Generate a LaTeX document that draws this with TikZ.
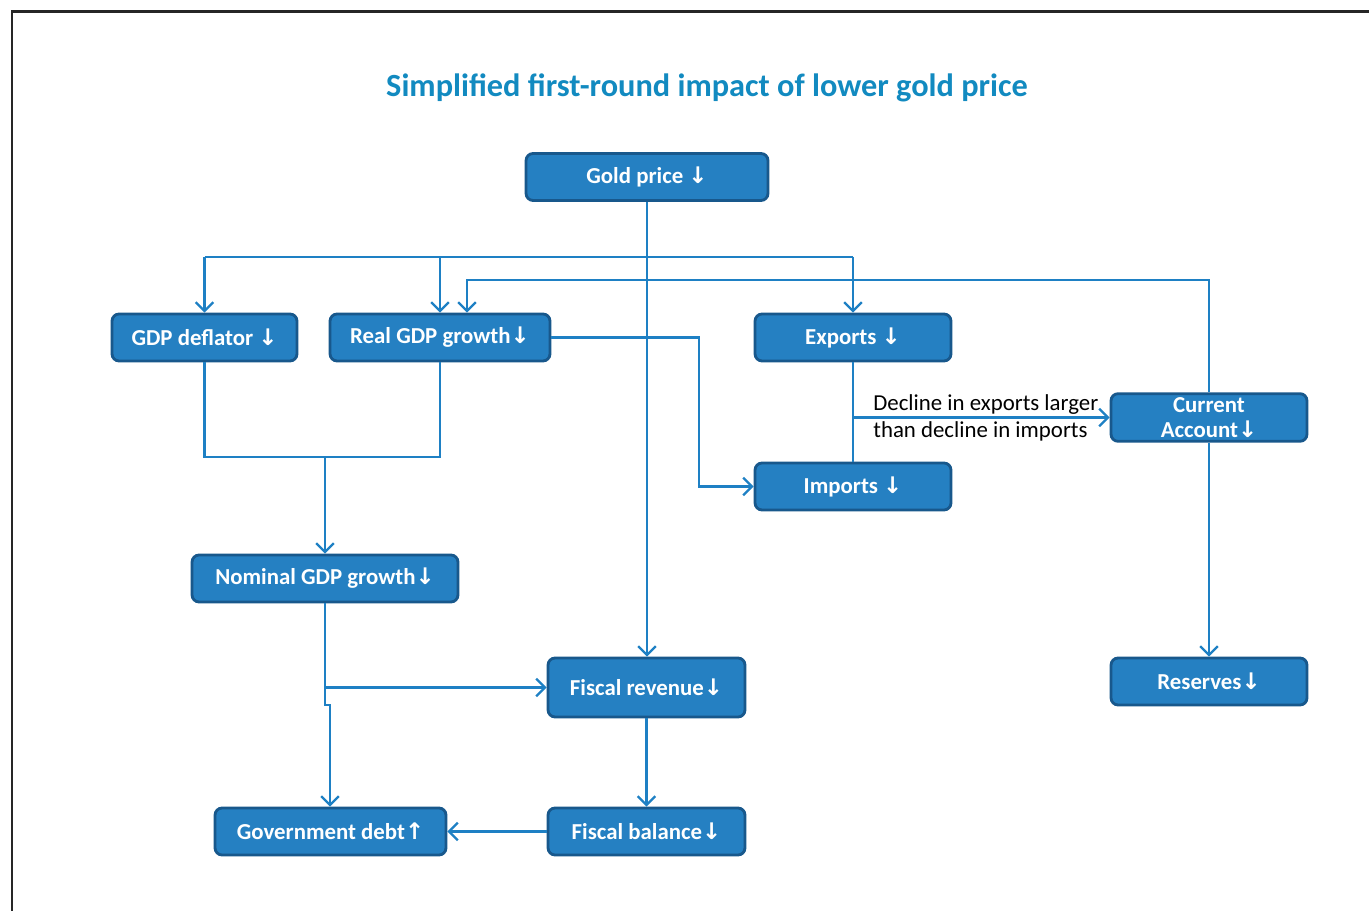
\documentclass[tikz,border=0pt]{standalone}
\usepackage{fontspec}
\setmainfont{Carlito}
\newfontfamily\arrowfont{DejaVu Sans}
\usetikzlibrary{arrows.meta}

\definecolor{boxfill}{RGB}{37,128,194}
\definecolor{boxline}{RGB}{24,88,140}
\definecolor{linkcol}{RGB}{30,128,196}
\definecolor{titlecol}{RGB}{18,138,192}

\newcommand{\dn}{{\arrowfont\bfseries ↓}}
\newcommand{\up}{{\arrowfont\bfseries ↑}}

\begin{document}
\begin{tikzpicture}[x=0.02cm, y=-0.02cm,
  box/.style={rectangle, rounded corners=4pt, draw=boxline, fill=boxfill, line width=1.6pt,
    text=white, font=\fontsize{13}{14}\selectfont\bfseries, minimum height=0.94cm, inner sep=2pt, align=center},
  link/.style={draw=linkcol, line width=1.4pt},
  arr/.style={link, -{Straight Barb[length=5pt, width=10pt, line width=1.3pt]}}]

\useasboundingbox (0,0) rectangle (1369,911);
\draw[line width=1.7pt, black!85] (12,911) -- (12,12) -- (1369,12);

\node[font=\fontsize{18.4}{21}\selectfont\bfseries, text=titlecol] (title) at (707,88) {Simplified first-round impact of lower gold price};

% boxes
\node[box, minimum width=4.84cm] (gold) at (647,177) {Gold price \dn};
\node[box, minimum width=3.70cm] (gdpdef) at (204.5,337.5) {GDP deflator \dn};
\node[box, minimum width=4.40cm] (realgdp) at (440,337.5) {Real GDP growth\dn};
\node[box, minimum width=3.92cm] (exports) at (853,337.5) {Exports \dn};
\node[box, minimum width=3.92cm] (imports) at (853,486.5) {Imports \dn};
\node[box, minimum width=3.92cm, font=\fontsize{13}{14.5}\selectfont\bfseries] (curacc) at (1209,417.5) {Current\\Account\dn};
\node[box, minimum width=5.32cm] (nomgdp) at (325,578.5) {Nominal GDP growth\dn};
\node[box, minimum width=3.94cm, minimum height=1.18cm] (fisrev) at (646.5,687.5) {Fiscal revenue\dn};
\node[box, minimum width=3.92cm] (reserves) at (1209,681.5) {Reserves\dn};
\node[box, minimum width=4.62cm] (govdebt) at (330.5,831.5) {Government debt\up};
\node[box, minimum width=3.94cm] (fisbal) at (646.5,831.5) {Fiscal balance\dn};

\coordinate (split) at (647,257);
\coordinate (back) at (467,280);
\coordinate (turn) at (699,337.5);
\coordinate (join) at (325,457);
\coordinate (jog) at (330,705);

% gold price
\draw[arr] (gold.south) -- (gold.south |- fisrev.north);
\draw[link] (split -| gdpdef) -- (split -| exports);
\foreach \n in {gdpdef, realgdp, exports} {
  \draw[arr] (split -| \n) -- (\n.north);
}

% current account feeds back
\draw[arr] (curacc.north) |- (back) -- (back |- realgdp.north);
\draw[arr] (realgdp.east) -- (turn) |- (imports.west);

% nominal GDP
\draw[link] (gdpdef.south) |- (join) -| (realgdp.south);
\draw[arr] (join) -- (nomgdp.north);
\draw[arr] (nomgdp.south) |- (fisrev.west);
\draw[arr] (nomgdp.south) |- (jog) -- (jog |- govdebt.north);

% trade
\draw[link] (exports.south) -- (imports.north);
\draw[arr] (exports.south |- curacc.west) -- (curacc.west);
\node[anchor=west, align=left, font=\fontsize{13}{15.5}\selectfont, inner sep=0pt] (note) at (873,418) {Decline in exports larger\\than decline in imports};
\draw[arr] (curacc.south) -- (reserves.north);

% fiscal
\draw[arr] (fisrev.south) -- (fisbal.north);
\draw[arr] (fisbal.west) -- (govdebt.east);

\end{tikzpicture}
\end{document}
